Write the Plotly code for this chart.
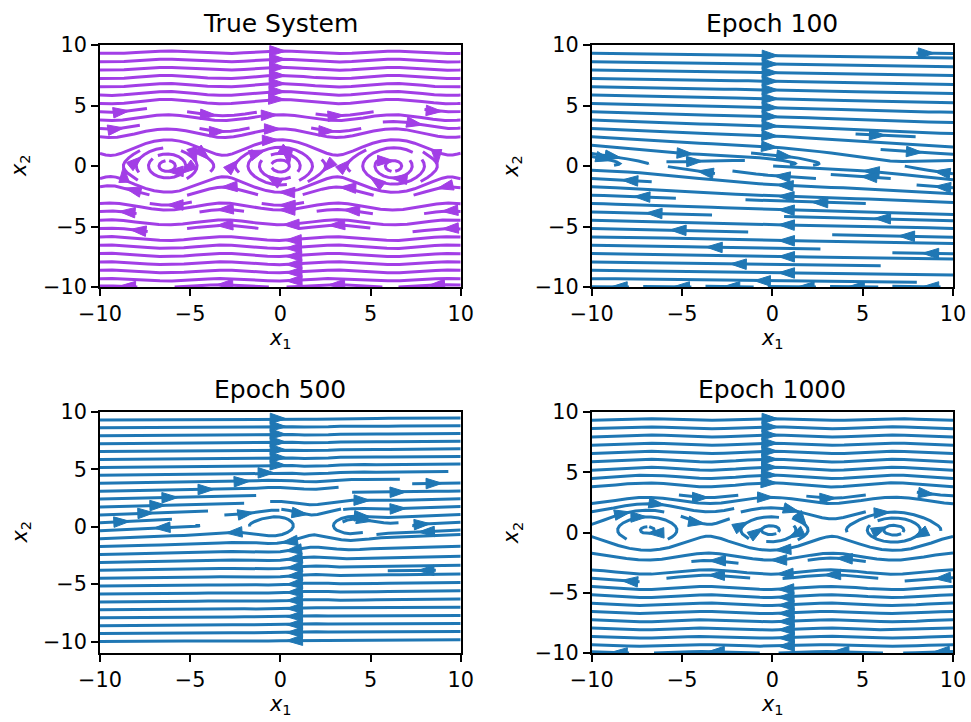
import numpy as np
import plotly.graph_objects as go

# ---------------- data / parameters ----------------
TITLES = ["True System", "Epoch 100", "Epoch 500", "Epoch 1000"]
LINE_COLORS = ["#a23ee6", "#1f77b4", "#1f77b4", "#1f77b4"]
X_RANGE = [-10, 10]
Y_RANGES = [[-10, 10], [-10, 10], [-11, 10], [-10, 10]]
TICK_VALUES = [-10, -5, 0, 5, 10]
# vector field of each panel:
#   dx1/dt = x2 - SHIFT
#   dx2/dt = -AMP*sin(FREQ*x1 + PHASE)*exp(-((x1-CENTER)/WIDTH)^2) - DRAG*tanh(x2 - SHIFT)
SHIFT = [0.0, 0.2, 0.1, 0.2]
AMP = [1.0, 0.05, 0.6, 0.6]
FREQ = [1.0, 0.5, 1.43, 0.92]
PHASE = [0.0, 0.0, 0.5, 0.09]
CENTER = [0.0, 0.0, 1.5, 0.0]
WIDTH = [np.inf, np.inf, 3.0, np.inf]
DRAG = [0.0, 0.17, -0.08, 0.0]
GRID_N = 200

# ---------------- streamline integration (matplotlib-style) ----------------
class OutOfBounds(IndexError):
    pass


class TerminateTrajectory(Exception):
    pass


class InvalidIndexError(Exception):
    pass


def interpgrid(a, xi, yi):
    Ny, Nx = a.shape
    x = int(xi)
    y = int(yi)
    xn = x if x == Nx - 1 else x + 1
    yn = y if y == Ny - 1 else y + 1
    xt = xi - x
    yt = yi - y
    a0 = a[y, x] * (1 - xt) + a[y, xn] * xt
    a1 = a[yn, x] * (1 - xt) + a[yn, xn] * xt
    return a0 * (1 - yt) + a1 * yt


def gen_starting_points(shape):
    ny, nx = shape
    xfirst, yfirst, xlast, ylast = 0, 1, nx - 1, ny - 1
    x, y = 0, 0
    direction = 'right'
    for _ in range(nx * ny):
        yield x, y
        if direction == 'right':
            x += 1
            if x >= xlast:
                xlast -= 1
                direction = 'up'
        elif direction == 'up':
            y += 1
            if y >= ylast:
                ylast -= 1
                direction = 'left'
        elif direction == 'left':
            x -= 1
            if x <= xfirst:
                xfirst += 1
                direction = 'down'
        elif direction == 'down':
            y -= 1
            if y <= yfirst:
                yfirst += 1
                direction = 'right'


def streamplot_lines(x, y, u, v, density=1.0, minlength=0.1, maxlength=4.0):
    ngx, ngy = len(x), len(y)
    gdx = x[1] - x[0]
    gdy = y[1] - y[0]
    mnx = mny = int(30 * density)
    mask = np.zeros((mny, mnx), dtype=int)
    xg2m = (mnx - 1) / (ngx - 1)
    yg2m = (mny - 1) / (ngy - 1)
    xm2g = 1.0 / xg2m
    ym2g = 1.0 / yg2m
    st = {'traj': [], 'cur': None}

    def within(xi, yi):
        return 0 <= xi <= ngx - 1 and 0 <= yi <= ngy - 1

    def grid2mask(xi, yi):
        return round(xi * xg2m), round(yi * yg2m)

    def upd_mask(xm, ym):
        if st['cur'] != (xm, ym):
            if mask[ym, xm] == 0:
                st['traj'].append((ym, xm))
                mask[ym, xm] = 1
                st['cur'] = (xm, ym)
            else:
                raise InvalidIndexError

    def start_traj(xg, yg):
        xm, ym = grid2mask(xg, yg)
        st['traj'] = []
        upd_mask(xm, ym)

    def reset_start(xg, yg):
        st['cur'] = grid2mask(xg, yg)

    def update_traj(xg, yg):
        if not within(xg, yg):
            raise InvalidIndexError
        xm, ym = grid2mask(xg, yg)
        upd_mask(xm, ym)

    def undo():
        for t in st['traj']:
            mask[t] = 0

    ug = u / gdx
    vg = v / gdy
    u_ax = ug / (ngx - 1)
    v_ax = vg / (ngy - 1)
    speed = np.sqrt(u_ax ** 2 + v_ax ** 2)

    def forward(xi, yi):
        if not within(xi, yi):
            raise OutOfBounds
        ds_dt = interpgrid(speed, xi, yi)
        if ds_dt == 0:
            raise TerminateTrajectory
        dt_ds = 1.0 / ds_dt
        return interpgrid(ug, xi, yi) * dt_ds, interpgrid(vg, xi, yi) * dt_ds

    def backward(xi, yi):
        a, b = forward(xi, yi)
        return -a, -b

    def euler_step(traj, f):
        xi, yi = traj[-1]
        cx, cy = f(xi, yi)
        if cx == 0:
            dsx = np.inf
        elif cx < 0:
            dsx = xi / -cx
        else:
            dsx = (ngx - 1 - xi) / cx
        if cy == 0:
            dsy = np.inf
        elif cy < 0:
            dsy = yi / -cy
        else:
            dsy = (ngy - 1 - yi) / cy
        ds = min(dsx, dsy)
        traj.append((xi + cx * ds, yi + cy * ds))
        return ds, traj

    def rk12(x0, y0, f):
        maxerror = 0.003
        maxds = min(1.0 / mnx, 1.0 / mny, 0.1)
        ds = maxds
        stotal = 0.0
        xi, yi = x0, y0
        traj = []
        while True:
            try:
                if within(xi, yi):
                    traj.append((xi, yi))
                else:
                    raise OutOfBounds
                k1x, k1y = f(xi, yi)
                k2x, k2y = f(xi + ds * k1x, yi + ds * k1y)
            except OutOfBounds:
                if traj:
                    ds, traj = euler_step(traj, f)
                    stotal += ds
                break
            except TerminateTrajectory:
                break
            dx1 = ds * k1x
            dy1 = ds * k1y
            dx2 = ds * 0.5 * (k1x + k2x)
            dy2 = ds * 0.5 * (k1y + k2y)
            error = np.hypot((dx2 - dx1) / (ngx - 1), (dy2 - dy1) / (ngy - 1))
            if error < maxerror:
                xi += dx2
                yi += dy2
                try:
                    update_traj(xi, yi)
                except InvalidIndexError:
                    break
                if stotal + ds > maxlength:
                    break
                stotal += ds
            if error == 0:
                ds = maxds
            else:
                ds = min(maxds, 0.85 * ds * (maxerror / error) ** 0.5)
        return stotal, traj

    def integrate(x0, y0):
        try:
            start_traj(x0, y0)
        except InvalidIndexError:
            return None
        stotal = 0.0
        s, xyt = rk12(x0, y0, backward)
        stotal += s
        traj = xyt[::-1]
        reset_start(x0, y0)
        s, xyt = rk12(x0, y0, forward)
        stotal += s
        traj += xyt[1:]
        if stotal > minlength:
            return np.array(traj)
        undo()
        return None

    result = []
    for xm, ym in gen_starting_points(mask.shape):
        if mask[ym, xm] == 0:
            t = integrate(xm * xm2g, ym * ym2g)
            if t is not None and len(t) > 1:
                tx = t[:, 0] * gdx + x[0]
                ty = t[:, 1] * gdy + y[0]
                result.append((tx, ty))
    return result


# ---------------- figure ----------------
W, H = 971, 722
COL_PX = [(100.0, 460.7), (591.7, 953.0)]
ROW_PX = [(45.0, 287.0), (412.0, 653.0)]
FONT = "DejaVu Sans"
TICK_FONT = dict(family=FONT, size=20.8, color="black")

fig = go.Figure()
layout = dict(width=W, height=H,
              margin=dict(l=0, r=0, t=0, b=0, pad=0, autoexpand=False),
              paper_bgcolor="white", plot_bgcolor="white", showlegend=False,
              annotations=[])

gx = np.linspace(X_RANGE[0], X_RANGE[1], GRID_N)
gy = np.linspace(-10, 10, GRID_N)
X1, X2 = np.meshgrid(gx, gy)

for i in range(4):
    r, c = divmod(i, 2)
    ax_id = "" if i == 0 else str(i + 1)
    x0p, x1p = COL_PX[c]
    y0p, y1p = ROW_PX[r]
    xdom = [x0p / W, x1p / W]
    ydom = [1 - y1p / H, 1 - y0p / H]
    yr = Y_RANGES[i]

    U = X2 - SHIFT[i]
    V = (-AMP[i] * np.sin(FREQ[i] * X1 + PHASE[i]) * np.exp(-((X1 - CENTER[i]) / WIDTH[i]) ** 2)
         - DRAG[i] * np.tanh(X2 - SHIFT[i]))
    lines = streamplot_lines(gx, gy, U, V)

    sx = (x1p - x0p) / (X_RANGE[1] - X_RANGE[0])
    sy = (y1p - y0p) / (yr[1] - yr[0])

    lx, ly = [], []
    ax_pts, ay_pts, angs = [], [], []
    for tx, ty in lines:
        lx.extend(tx.tolist())
        ly.extend(ty.tolist())
        lx.append(None)
        ly.append(None)
        s = np.cumsum(np.hypot(np.diff(tx), np.diff(ty)))
        n = int(np.searchsorted(s, s[-1] / 2.0))
        tail = (tx[n], ty[n])
        head = (np.mean(tx[n:n + 2]), np.mean(ty[n:n + 2]))
        ddx = (head[0] - tail[0]) * sx
        ddy = (head[1] - tail[1]) * sy
        if ddx == 0 and ddy == 0:
            continue
        ang = float(np.degrees(np.arctan2(ddx, ddy)))
        ax_pts.append(head[0])
        ay_pts.append(head[1])
        angs.append(ang)

    xref = "x" + ax_id
    yref = "y" + ax_id
    fig.add_trace(go.Scatter(x=lx, y=ly, mode="lines", xaxis=xref, yaxis=yref,
                             line=dict(color=LINE_COLORS[i], width=3),
                             hoverinfo="skip"))
    fig.add_trace(go.Scatter(x=ax_pts, y=ay_pts, mode="markers", xaxis=xref, yaxis=yref,
                             marker=dict(symbol="arrow", size=17, angle=angs,
                                         color=LINE_COLORS[i],
                                         line=dict(color=LINE_COLORS[i], width=1)),
                             hoverinfo="skip"))

    common = dict(showline=True, linecolor="black", linewidth=1.7, mirror=True,
                  ticks="outside", ticklen=7, tickwidth=1.7, tickcolor="black",
                  showgrid=False, zeroline=False, tickfont=TICK_FONT, automargin=False,
                  tickmode="array", tickvals=TICK_VALUES)
    layout["xaxis" + ax_id] = dict(domain=xdom, range=X_RANGE, anchor=yref, **common)
    layout["yaxis" + ax_id] = dict(domain=ydom, range=yr, anchor=xref, **common)

    xc = (x0p + x1p) / 2 / W
    layout["annotations"].append(dict(
        text=TITLES[i], x=xc, y=1 - (y0p - 22) / H, xref="paper", yref="paper",
        showarrow=False, xanchor="center", yanchor="middle",
        font=dict(family=FONT, size=25, color="black")))
    layout["annotations"].append(dict(
        text="<i>x</i><sub>1</sub>", x=xc, y=1 - (y1p + 52) / H, xref="paper", yref="paper",
        showarrow=False, xanchor="center", yanchor="middle",
        font=dict(family=FONT, size=20.8, color="black")))
    layout["annotations"].append(dict(
        text="<i>x</i><sub>2</sub>", x=(x0p - 80) / W, y=1 - (y0p + y1p) / 2 / H,
        xref="paper", yref="paper", textangle=-90,
        showarrow=False, xanchor="center", yanchor="middle",
        font=dict(family=FONT, size=20.8, color="black")))

fig.update_layout(**layout)
fig.write_html("out.html", config={"displayModeBar": False},
               post_script="document.body.style.margin='0';document.body.style.overflow='hidden';")
